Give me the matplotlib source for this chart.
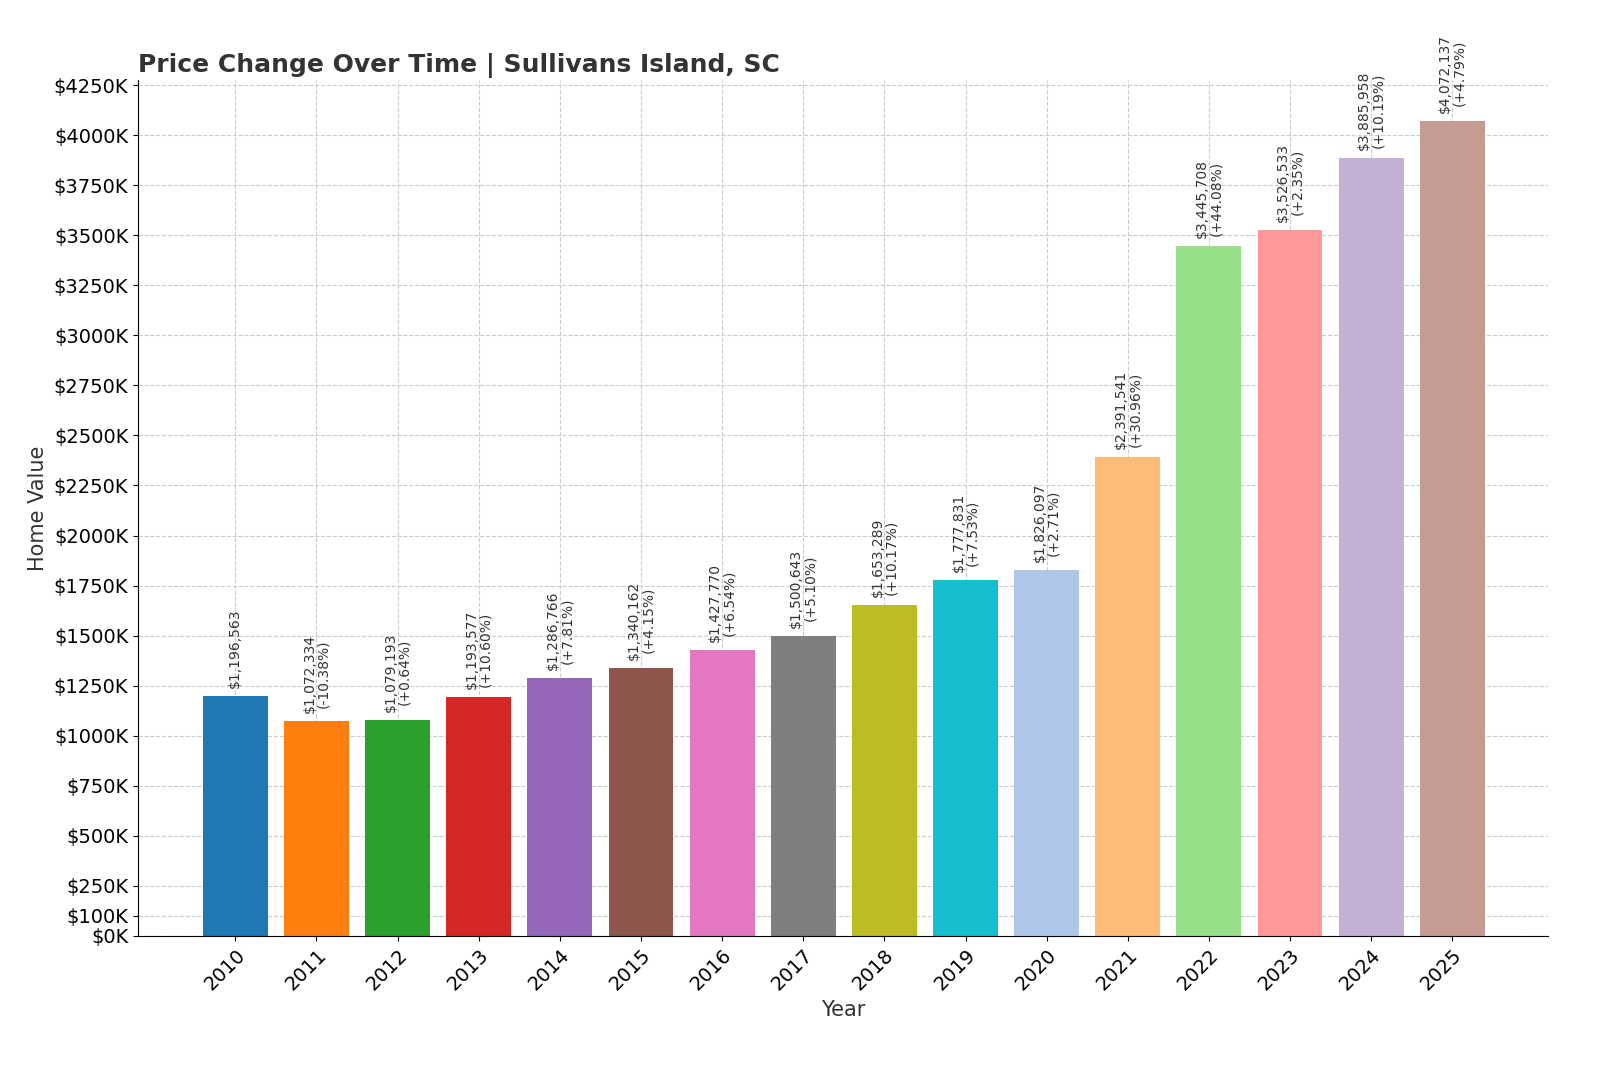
import matplotlib
matplotlib.use("Agg")
import matplotlib.pyplot as plt

years = [str(y) for y in range(2010, 2026)]
values = [1196563, 1072334, 1079193, 1193577, 1286766, 1340162, 1427770, 1500643,
          1653289, 1777831, 1826097, 2391541, 3445708, 3526533, 3885958, 4072137]
pcts = [None, "-10.38%", "+0.64%", "+10.60%", "+7.81%", "+4.15%", "+6.54%", "+5.10%",
        "+10.17%", "+7.53%", "+2.71%", "+30.96%", "+44.08%", "+2.35%", "+10.19%", "+4.79%"]
colors = ["#1f77b4", "#ff7f0e", "#2ca02c", "#d62728", "#9467bd", "#8c564b", "#e377c2",
          "#7f7f7f", "#bcbd22", "#17becf", "#aec7e8", "#ffbb78", "#98df8a", "#ff9896",
          "#c5b0d5", "#c49c94"]
yticks = [0, 100000] + list(range(250000, 4250001, 250000))

fig = plt.figure(figsize=(16, 10.67), dpi=100)
ax = fig.add_axes([138/1600, 1 - 936/1067, (1548-138)/1600, (936-80)/1067])
x = list(range(len(years)))
ax.bar(x, values, color=colors, width=0.8, zorder=2)
for i, v in enumerate(values):
    txt = f"${v:,}" if pcts[i] is None else f"${v:,}\n({pcts[i]})"
    ax.text(i, v + 40000, txt, rotation=90, ha="center", va="bottom",
            fontsize=10, color="#333333", linespacing=1.0, zorder=3)
ax.set_xticks(x)
ax.set_xticklabels(years, rotation=45, ha="right", rotation_mode="anchor", fontsize=14)
ax.set_yticks(yticks)
ax.set_yticklabels([f"${t//1000}K" for t in yticks], fontsize=14)
ax.set_xlim(-1.2, 16.18)
ax.set_ylim(0, 4275000)
ax.grid(True, linestyle="--", color="#cccccc", linewidth=0.8, zorder=0)
ax.set_axisbelow(True)
for s in ["top", "right"]:
    ax.spines[s].set_visible(False)
ax.set_xlabel("Year", fontsize=15, color="#333333")
ax.set_ylabel("Home Value", fontsize=15, color="#333333")
ax.set_title("Price Change Over Time | Sullivans Island, SC", loc="left",
             fontsize=18, fontweight="bold", color="#333333")
fig.savefig("out.png", dpi=100)
